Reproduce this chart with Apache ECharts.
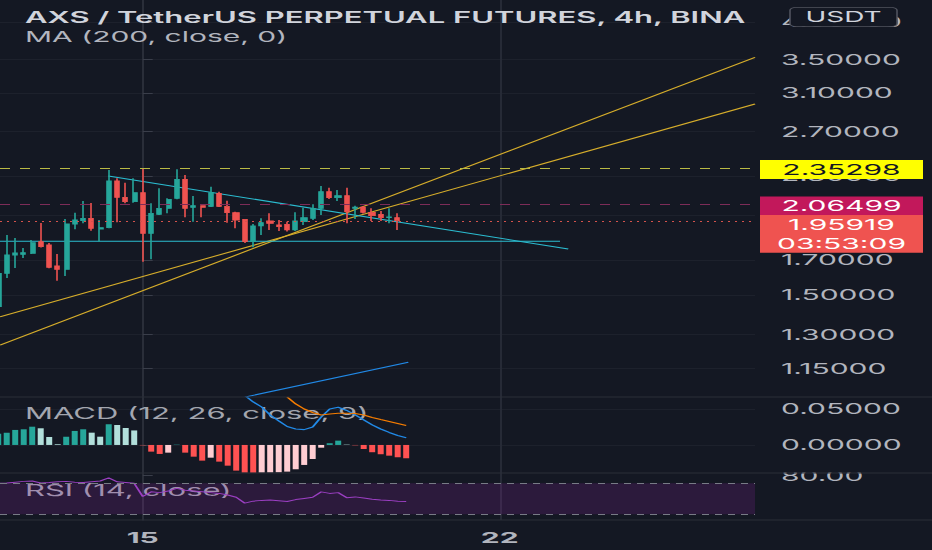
<!DOCTYPE html>
<html>
<head>
<meta charset="utf-8">
<script src="https://cdn.jsdelivr.net/npm/echarts@6/dist/echarts.min.js"></script>
<style>
html,body{margin:0;padding:0;background:#141823;overflow:hidden;width:932px;height:550px;}
#chart{position:absolute;left:0;top:0;width:466px;height:550px;transform:scaleX(2);transform-origin:0 0;}
</style>
</head>
<body>
<div id="chart"></div>
<script>
// ---------- data (4h bars, index 0 = 15th 00:00) ----------
const candleIdx = [-17,-16,-15,-14,-13,-12,-11,-10,-9,-8,-7,-6,-5,-4,-3,-2,-1,0,1,2,3,4,5,6,7,8,9,10,11,12,13,14,15,16,17,18,19,20,21,22,23,24,25,26,27,28,29,30];
const opens  = [1.4371,1.6206,1.7309,1.7353,1.7415,1.8159,1.7943,1.6637,1.6441,1.9351,1.9582,1.9752,1.9006,1.9095,2.2587,2.1301,2.0967,2.1656,1.8714,2.0037,2.0474,2.1224,2.2726,2.0548,2.0666,2.0614,2.1609,2.0614,2.0153,1.9681,1.8159,1.9213,1.9561,1.9282,1.9330,1.8938,1.9512,1.9752,2.0474,2.1734,2.1270,2.1424,2.0474,2.0562,2.0182,2.0037,1.9794,1.9794];
const closes = [1.6206,1.7309,1.7434,1.7453,1.8094,1.7836,1.6559,1.6441,1.9351,1.9631,1.9752,1.9054,1.9095,2.2587,2.1301,2.0967,2.1656,1.8714,2.0110,2.0474,2.1148,2.2726,2.0474,2.0666,2.0548,2.1656,2.0614,2.0153,1.9631,1.8159,1.9213,1.9442,1.9400,1.9165,1.8938,1.9561,1.9794,2.0474,2.1734,2.1270,2.1424,2.0225,2.0562,2.0182,1.9936,1.9794,1.9844,1.9592];
const lows   = [1.4202,1.5934,1.6518,1.7123,1.7371,1.7782,1.6500,1.5780,1.6049,1.8986,1.9400,1.8891,1.8159,1.9054,1.9470,2.0847,2.0892,1.6896,1.7043,1.9987,2.0110,2.1148,1.9823,1.9512,1.9823,2.0562,2.0562,1.9442,1.9054,1.8072,1.7796,1.8600,1.8938,1.8870,1.8836,1.8870,1.9282,1.9631,1.9987,2.1171,2.1020,1.9400,1.9702,2.0096,1.9561,1.9561,1.9400,1.8938];
const highs  = [1.6518,1.8600,1.8400,1.7750,1.8268,1.9421,1.8072,1.7371,1.9702,2.0153,2.1020,2.0869,1.9631,2.3499,2.2807,2.2449,2.2807,2.3643,2.0847,2.2002,2.1224,2.3558,2.3080,2.1393,2.0670,2.2129,2.1734,2.1043,2.0225,1.9681,1.9351,1.9752,2.0110,1.9631,1.9512,2.0182,2.0519,2.0772,2.2185,2.2050,2.1868,2.2050,2.0666,2.0644,2.0474,2.0278,2.0474,2.0110];

const histIdx  = [-17,-16,-15,-14,-13,-12,-11,-10,-9,-8,-7,-6,-5,-4,-3,-2,-1,0,1,2,3,4,5,6,7,8,9,10,11,12,13,14,15,16,17,18,19,20,21,22,23,24,25,26,27,28,29,30,31];
const histVals = [0.0157,0.0171,0.0209,0.0218,0.0254,0.0232,0.0111,0.0010,0.0115,0.0195,0.0218,0.0171,0.0115,0.0288,0.0278,0.0236,0.0202,
  -0.0005,-0.0093,-0.0125,-0.0107,0.0004,-0.0107,-0.0163,-0.0218,-0.0177,-0.0232,-0.0288,-0.0357,-0.0385,-0.0387,-0.0384,-0.0382,-0.0380,-0.0371,-0.0338,-0.0278,-0.0195,-0.0038,0.0024,0.0060,0.0005,-0.0005,-0.0056,-0.0101,-0.0129,-0.0149,-0.0171,-0.0185];
const macdIdx  = [12,13,14,15,16,17,18,19,20,21,22,23,24,25,26,27,28,29,30,31];
const macdVals = [0.0690,0.0598,0.0528,0.0417,0.0334,0.0257,0.0222,0.0213,0.0250,0.0389,0.0500,0.0524,0.0480,0.0417,0.0348,0.0278,0.0222,0.0174,0.0132,0.0101];
const signalIdx  = [17,18,19,20,21,22,23,24,25,26,27,28,29,30,31];
const signalVals = [0.0667,0.0570,0.0500,0.0452,0.0417,0.0431,0.0441,0.0441,0.0438,0.0417,0.0382,0.0354,0.0327,0.0299,0.0271];
const rsiIdx  = histIdx;
const rsiVals = [70.0,70.5,71.5,72.5,73,70.5,71,72,72.5,71.5,71,72,73,77,72,71,70,
  53,59,58,60,63.5,61,60,59,58,57,55,52,44.5,47,48,48.5,47.5,46.5,49,50.5,52,59,57,58,51.5,52.5,51,49.5,48.5,48,47,46.5];

const priceTicks = [1.15,1.3,1.5,1.7,2.0,2.3,2.7,3.1,3.5,4.0];
const priceLabels = [1.15,1.3,1.5,1.7,2.3,2.7,3.1,3.5,4.0]; // 2.0 sits fully under the price tags
const macdTicks  = [0, 0.05];
const rsiTicks   = [80];
const rsiBands   = [70, 30];
const dayTickIdx  = [0, 42];
const dayTickText = ['15', '22'];

const alertLevel = 2.35298;
const prevClose  = 2.06499;
const lastPrice  = 1.95919;
const countdown  = '03:53:09';

// user drawings: [barIndex, price]
const yellowA  = [[-16.79, 1.3863], [72.04, 2.9795]];
const yellowB  = [[-16.79, 1.2521], [72.04, 3.5244]];
const cyanDown = [[-4.05, 2.2995], [50.07, 1.7685]];
const cyanFlat = [[-16.79, 1.8182], [49.1, 1.8182]];
const blueRay  = [[12.24, 1.0396], [31.25, 1.1766]];

const titleText = 'AXS / TetherUS PERPETUAL FUTURES, 4h, BINANCE';
const maText = 'MA (200, close, 0)';
const macdText = 'MACD (12, 26, close, 9)';
const rsiText = 'RSI (14, close)';

// ---------- chart ----------
const L = Math.log;
const BG = '#141823';
const FF = 'Inter, "Noto Sans", "DejaVu Sans", sans-serif';
const UP = '#26a69a', DOWN = '#ef5350';
const xMin = -16.79, xMax = 72.04;
const PW = 377.5; // plot width (before horizontal stretch)

function histColor(i) {
  const v = histVals[i];
  const prev = i > 0 ? histVals[i - 1] : null;
  if (v >= 0) return (prev === null || v > prev) ? '#26a69a' : '#b2dfdb';
  return (v < prev) ? '#ff5252' : '#ffcdd2';
}
function seg(pts, color) {
  return {type: 'line', xAxisIndex: 0, yAxisIndex: 0, silent: true, symbol: 'none', z: 3,
    data: pts.map(p => [p[0], L(p[1])]), lineStyle: {color: color, width: 1}};
}
function tag(price, dy, bg, fg, text) {
  return {coord: [xMax, L(price)], value: price, symbol: 'rect', symbolSize: [81.5, 19],
    symbolOffset: [43.25, dy], itemStyle: {color: bg},
    label: {show: true, position: 'inside', color: fg, fontSize: 15, fontFamily: FF,
      formatter: text ? text : (p => Number(p.value).toFixed(5))}};
}

const chart = echarts.init(document.getElementById('chart'), null, {renderer: 'svg'});

const axisLabelBase = {color: '#b2b5be', fontSize: 15, fontFamily: FF};

const option = {
  backgroundColor: BG,
  animation: false,
  grid: [
    {left: 0, top: 0, width: PW, height: 397, outerBoundsMode: 'none'},
    {left: 0, top: 397, width: PW, height: 76, outerBoundsMode: 'none'},
    {left: 0, top: 473, width: PW, height: 47, outerBoundsMode: 'none'}
  ],
  xAxis: [0, 1, 2].map(i => ({
    type: 'value', gridIndex: i, min: xMin, max: xMax,
    axisLine: {show: false},
    axisTick: {show: false, customValues: dayTickIdx},
    splitLine: {show: true, lineStyle: {color: '#262a36', width: 1}},
    axisLabel: Object.assign({}, axisLabelBase, {show: i === 2, customValues: dayTickIdx, fontWeight: 'bold', margin: 10,
      formatter: v => dayTickText[dayTickIdx.indexOf(v)]})
  })),
  yAxis: [
    {type: 'value', gridIndex: 0, position: 'right', min: 0.0378, max: 1.4658,
      axisLine: {show: true, lineStyle: {color: '#2a2e39', width: 1}},
      axisTick: {show: true, customValues: priceTicks.map(L), length: 5, lineStyle: {color: '#3a3e4a'}},
      axisLabel: Object.assign({}, axisLabelBase, {customValues: priceLabels.map(L), margin: 13, formatter: v => Math.exp(v).toFixed(5)}),
      splitLine: {show: true, lineStyle: {color: '#1d212c'}}},
    {type: 'value', gridIndex: 1, position: 'right', min: -0.039, max: 0.0667,
      axisLine: {show: true, lineStyle: {color: '#2a2e39', width: 1}},
      axisTick: {show: true, customValues: macdTicks, length: 5, lineStyle: {color: '#3a3e4a'}},
      axisLabel: Object.assign({}, axisLabelBase, {customValues: macdTicks, margin: 13, formatter: v => v.toFixed(5)}),
      splitLine: {show: true, lineStyle: {color: '#1d212c'}}},
    {type: 'value', gridIndex: 2, position: 'right', min: 22.7, max: 83.3,
      axisLine: {show: true, lineStyle: {color: '#2a2e39', width: 1}},
      axisTick: {show: true, customValues: rsiTicks, length: 5, lineStyle: {color: '#3a3e4a'}},
      axisLabel: Object.assign({}, axisLabelBase, {customValues: rsiTicks, margin: 13, formatter: v => v.toFixed(2)}),
      splitLine: {show: false}}
  ],
  series: [
    {type: 'candlestick', xAxisIndex: 0, yAxisIndex: 0, clip: true, barWidth: 2.7, z: 4,
      data: candleIdx.map((x, i) => [x, L(opens[i]), L(closes[i]), L(lows[i]), L(highs[i])]),
      itemStyle: {color: UP, color0: DOWN, borderColor: UP, borderColor0: DOWN, borderWidth: 0.8},
      markLine: {silent: true, symbol: ['none', 'none'], label: {show: false}, animation: false,
        data: [
          {yAxis: L(alertLevel), lineStyle: {color: '#b9b944', type: [5, 5], width: 1}},
          {yAxis: L(prevClose), lineStyle: {color: '#7d2c58', type: [5, 5], width: 1}},
          {yAxis: L(lastPrice), lineStyle: {color: '#d4524c', type: [1, 2.5], width: 1}}
        ]},
      markPoint: {silent: true, animation: false,
        data: [
          tag(alertLevel, 0, '#ffff00', '#131722', null),
          tag(prevClose, 0, '#c2185b', '#ffffff', null),
          tag(lastPrice, 3.9, '#ef5350', '#ffffff', null),
          tag(lastPrice, 22.7, '#ef5350', '#ffffff', countdown)
        ]}
    },
    seg(yellowA, '#d6ad2b'),
    seg(yellowB, '#d6ad2b'),
    seg(cyanDown, '#2bbcd0'),
    seg(cyanFlat, '#2bbcd0'),
    seg(blueRay, '#2189e6'),
    {type: 'bar', xAxisIndex: 1, yAxisIndex: 1, barWidth: 3, silent: true,
      data: histIdx.map((x, i) => [x, histVals[i]]),
      itemStyle: {color: p => histColor(p.dataIndex)}},
    {type: 'line', xAxisIndex: 1, yAxisIndex: 1, symbol: 'none', silent: true, z: 3,
      data: macdIdx.map((x, i) => [x, macdVals[i]]), lineStyle: {color: '#2189e6', width: 1.1}},
    {type: 'line', xAxisIndex: 1, yAxisIndex: 1, symbol: 'none', silent: true, z: 3,
      data: signalIdx.map((x, i) => [x, signalVals[i]]), lineStyle: {color: '#f57c00', width: 1.1}},
    {type: 'line', xAxisIndex: 2, yAxisIndex: 2, symbol: 'none', silent: true, z: 3,
      data: rsiIdx.map((x, i) => [x, rsiVals[i]]), lineStyle: {color: '#9b3fc2', width: 1},
      markArea: {silent: true, itemStyle: {color: 'rgba(156,39,176,0.18)'},
        data: [[{yAxis: rsiBands[1]}, {yAxis: rsiBands[0]}]]},
      markLine: {silent: true, symbol: ['none', 'none'], label: {show: false},
        lineStyle: {color: '#787b86', type: [3.5, 3], width: 1},
        data: rsiBands.map(b => ({yAxis: b}))}}
  ],
  graphic: [
    {type: 'text', x: 12.5, y: 17.5, z: 1, silent: true,
      style: {text: titleText, fill: '#d1d4dc', font: '600 15.5px ' + FF, verticalAlign: 'middle', width: 366.5, overflow: 'truncate', ellipsis: ''}},
    {type: 'text', x: 12.5, y: 37, z: 1, silent: true,
      style: {text: maText, fill: '#b2b5be', font: '15px ' + FF, verticalAlign: 'middle'}},
    {type: 'text', x: 12.5, y: 413.5, z: 1, silent: true,
      style: {text: macdText, fill: '#a3a6af', font: '15.5px ' + FF, verticalAlign: 'middle'}},
    {type: 'text', x: 12.5, y: 490.5, z: 1, silent: true,
      style: {text: rsiText, fill: '#a3a6af', font: '15.5px ' + FF, verticalAlign: 'middle'}},
    {type: 'rect', z: 40, silent: true, shape: {x: 378.5, y: 459, width: 87.5, height: 13.5}, style: {fill: BG}},
    {type: 'line', z: 50, silent: true, shape: {x1: 0, y1: 397, x2: 466, y2: 397}, style: {stroke: '#2a2e39', lineWidth: 1}},
    {type: 'line', z: 50, silent: true, shape: {x1: 0, y1: 473, x2: 466, y2: 473}, style: {stroke: '#2a2e39', lineWidth: 1}},
    {type: 'line', z: 50, silent: true, shape: {x1: 0, y1: 520, x2: 466, y2: 520}, style: {stroke: '#2a2e39', lineWidth: 1}},
    {type: 'rect', z: 60, silent: true, shape: {x: 395, y: 7.3, width: 53.5, height: 19.4, r: 3},
      style: {fill: BG, stroke: '#50535e', lineWidth: 0.8}},
    {type: 'text', x: 421.75, y: 16.8, z: 61, silent: true,
      style: {text: 'USDT', fill: '#d1d4dc', font: '14px ' + FF, align: 'center', verticalAlign: 'middle'}}
  ]
};
chart.setOption(option);
</script>
</body>
</html>
